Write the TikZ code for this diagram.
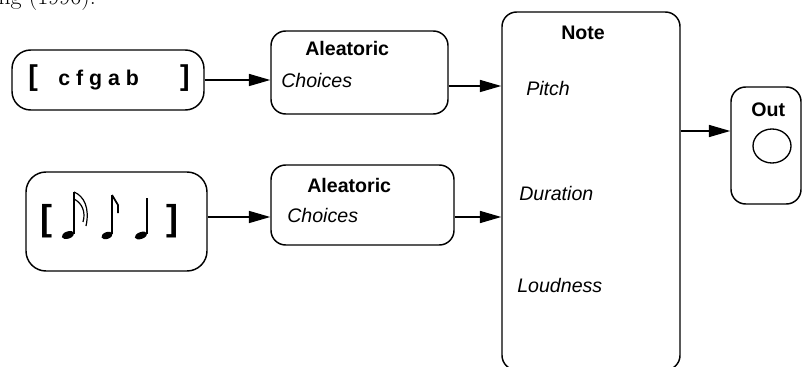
\documentclass[tikz,border=0pt]{standalone}
\usepackage{fontspec}
\setsansfont{Liberation Sans}
\usetikzlibrary{arrows.meta,shapes.geometric}
\tikzset{
	caja/.style={draw, line width=1.1pt, rounded corners=11pt, inner sep=0pt},
	titulo/.style={anchor=base west, inner sep=0pt, 
		font=\sffamily\bfseries\fontsize{14.7}{17}\selectfont},
	campo/.style={anchor=base west, inner sep=0pt, 
		font=\sffamily\itshape\fontsize{14.7}{17}\selectfont},
	corchete/.style={inner sep=0pt, font=\sffamily\bfseries\fontsize{#1}{#1}\selectfont},
	flecha/.style={line width=1.1pt, -{Triangle[length=16pt,width=9pt]}},
	plica/.style={line width=1.1pt},
	corchete/.default=21.5
}

\begin{document}
\begin{tikzpicture}[x=0.75pt, y=-0.75pt]
	\useasboundingbox (0,0) rectangle (803,367);
	\node[anchor=base west, inner sep=0pt, font=\fontsize{18}{20}\selectfont] (cita) at (-2,5) {ng (1996).};
	
	\node[caja, rounded corners=14pt, minimum width=144pt, minimum height=45pt] (alturas) at (108,80) {};
	\node[corchete, anchor=base west] (abre1) at (28,86) {[};
	\node[corchete, anchor=base east] (cierra1) at (190,86) {]};
	\node[anchor=base west, inner sep=0pt, font=\sffamily\bfseries\fontsize{16}{18}\selectfont] (letras) at (58,86) {c f g a b};
	
	\node[caja, rounded corners=15pt, minimum width=135.75pt, minimum height=74.25pt] (ritmos) at (116.5,221.5) {};
	\node[corchete=27, anchor=base west] (abre2) at (40,230) {[};
	\node[corchete=27, anchor=base east] (cierra2) at (179,230) {]};
	\fill[rotate around={20:(68,235)}] (68,235) ellipse [x radius=6.5, y radius=3.6];
	\draw[plica] (74,234) -- (74,192);
	\draw[line width=0.9pt] (74,192) .. controls (84,196) and (90,208) .. (86,226);
	\draw[line width=0.9pt] (74,199) .. controls (82,203) and (86,212) .. (83,222);
	\fill[rotate around={20:(107,235.5)}] (107,235.5) ellipse [x radius=5.8, y radius=3.4];
	\draw[plica] (112,234) -- (112,195);
	\draw[line width=1.3pt] (112,195) -- (118,205) -- (118,213);
	\fill[rotate around={20:(141,235.5)}] (141,235.5) ellipse [x radius=6.5, y radius=3.4];
	\draw[plica] (147,234) -- (147,198);
	
	\node[caja, minimum width=132.75pt, minimum height=62.25pt] (azar1) at (359.5,72.5) {};
	\node[titulo] (azar1t) at (305,56) {Aleatoric};
	\node[campo] (azar1c) at (281,88) {Choices};
	
	\node[caja, minimum width=137.25pt, minimum height=60pt] (azar2) at (362.5,205) {};
	\node[titulo] (azar2t) at (307,193) {Aleatoric};
	\node[campo] (azar2c) at (287,223) {Choices};
	
	\node[caja, minimum width=133.5pt, minimum height=268.5pt] (nota) at (591,191) {};
	\node[titulo] (notat) at (561,40) {Note};
	\node[campo] (altura) at (526,96) {Pitch};
	\node[campo] (duracion) at (519,200) {Duration};
	\node[campo] (volumen) at (517,292) {Loudness};
	
	\node[caja, minimum width=52.5pt, minimum height=87.75pt] (salida) at (766,145.5) {};
	\node[titulo] (salidat) at (751,117) {Out};
	\node[draw, ellipse, line width=1pt, minimum width=28.5pt, minimum height=25.5pt] (altavoz) at (772,146) {};
	
	\coordinate (y1) at (0,80);
	\coordinate (y2) at (0,86);
	\coordinate (y3) at (0,217);
	\coordinate (y4) at (0,131);
	\draw[flecha] (alturas.east |- y1) -- (azar1.west |- y1);
	\draw[flecha] (azar1.east |- y2) -- (nota.west |- y2);
	\draw[flecha] (ritmos.east |- y3) -- (azar2.west |- y3);
	\draw[flecha] (azar2.east |- y3) -- (nota.west |- y3);
	\draw[flecha] (nota.east |- y4) -- (salida.west |- y4);
\end{tikzpicture}
\end{document}
